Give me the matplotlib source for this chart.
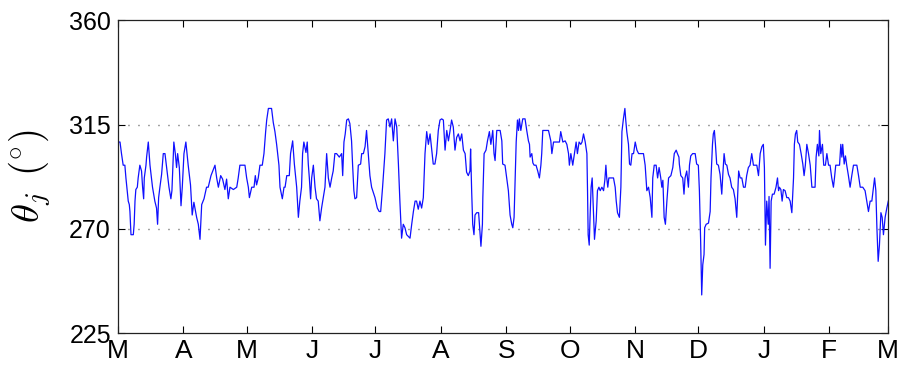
import matplotlib

matplotlib.use("Agg")
import matplotlib.pyplot as plt
import numpy as np

# ---------------------------------------------------------------------------
# Data: theta_j (deg) vs day since 1 March
# ---------------------------------------------------------------------------
day_mar_may = [
    0.0, 1.0, 1.7, 2.5, 3.3, 3.8, 4.4, 4.9, 5.4, 5.7,
    6.2, 7.3, 7.7, 8.1, 8.5, 9.2, 9.6, 10.4, 11.2, 11.7,
    12.2, 12.5, 13.3, 13.6, 14.4, 15.2, 16.4, 17.5, 18.3, 18.8,
    19.3, 19.9, 20.7, 21.5, 22.3, 23.1, 24.2, 25.1, 25.6, 26.5,
    27.2, 27.8, 28.3, 29.1, 29.9, 30.5, 31.3, 32.2, 33.3, 34.4,
    35.2, 36.0, 37.3, 38.1, 38.9, 39.7, 40.8, 42.0, 42.8, 44.1,
    46.0, 46.8, 47.6, 48.7, 49.6, 50.7, 51.5, 52.3, 53.1, 54.7,
    56.3, 57.0, 57.8, 60.2, 61.0, 61.8, 62.3, 63.4, 64.5, 65.1,
    65.7, 66.5, 67.3, 68.4, 69.2, 70.0, 70.5, 71.3, 72.8, 73.6,
    74.4, 75.2, 76.3, 76.8, 77.9, 78.7, 79.2, 80.0, 81.2, 81.8,
    82.8, 83.6, 84.7, 85.5,
]
theta_mar_may = [
    307.5, 307.5, 302.5, 297.5, 297.5, 292, 286.5, 282, 280.5, 277.5,
    267.5, 267.5, 272, 282, 287, 288, 292, 297.5, 295, 288,
    283, 292, 297.5, 301, 307.5, 297.5, 288, 282, 279, 272,
    283.5, 288, 293.5, 302.5, 302.5, 296.5, 288, 283, 286.5, 307.5,
    302.5, 296.5, 302.5, 296.5, 280, 288, 302.5, 307.5, 297.5, 289,
    276, 281.5, 275, 272, 265.5, 280.5, 283, 288, 288, 293,
    297.5, 292, 288, 293, 291.5, 287, 291.5, 283, 288, 287,
    288, 292, 297.5, 297.5, 292, 288, 283.5, 288, 288, 293,
    289, 292, 297.5, 297.5, 302.5, 312, 317, 322, 322, 316,
    312, 306.5, 297.5, 288, 283, 288, 288, 293, 293, 302.5,
    308, 298, 288, 275,
]

day_jun_aug = [
    86.2, 87.0, 87.5, 88.1, 89.1, 89.7, 90.2, 90.7, 91.3, 91.8,
    92.6, 93.4, 94.1, 94.9, 95.7, 96.5, 97.3, 98.1, 98.9, 99.7,
    100.5, 101.3, 102.0, 102.8, 103.6, 104.9, 106.0, 106.5, 107.1, 107.7,
    108.4, 109.2, 109.9, 110.7, 111.2, 111.8, 112.3, 113.1, 113.9, 115.0,
    115.5, 116.3, 117.1, 117.8, 118.6, 119.4, 120.2, 121.8, 122.9, 123.8,
    124.5, 125.4, 126.5, 127.3, 128.1, 128.9, 129.7, 130.5, 131.3, 132.1,
    132.9, 133.6, 134.4, 135.2, 136.0, 136.8, 138.4, 139.2, 140.0, 140.8,
    141.5, 142.3, 143.1, 143.9, 144.7, 145.5, 146.3, 147.1, 147.9, 148.7,
    149.4, 150.2, 151.0, 151.8, 152.6, 153.4, 154.2, 155.0, 155.8, 156.6,
    157.3, 158.1, 158.9, 159.7, 160.5, 161.3, 162.1, 162.9, 163.7, 164.5,
    165.2, 166.0, 166.8, 167.1, 167.6, 168.1, 168.7, 169.2, 170.0, 170.9,
    171.6, 172.0, 172.7,
]
theta_jun_aug = [
    282, 288, 302.5, 307.5, 303, 307.5, 298, 292, 283, 292,
    297.5, 288, 283, 282, 273.5, 279, 283.5, 288, 302.5, 292,
    288, 292, 295, 302.5, 302.5, 301, 302.5, 293, 307.5, 311,
    317, 317.5, 315.5, 308, 297.5, 286.5, 283, 283.5, 297.5, 298,
    302.5, 302.5, 305.5, 312.5, 302.5, 293, 288, 283.5, 279, 277.5,
    277.5, 288, 302.5, 317, 317.5, 314, 317.5, 308, 317.5, 314,
    298, 282, 266, 272, 270.5, 267.5, 266, 272, 277.5, 282,
    282, 278.5, 282, 279, 283.5, 302.5, 312, 306.5, 311, 304,
    298, 298, 302.5, 312.5, 317, 317.5, 317, 304, 312.5, 308,
    312, 317, 314, 304, 309.5, 311, 308, 311, 304, 302.5,
    294.5, 293, 295, 304.5, 286.5, 272, 267.5, 276, 277, 277,
    267.5, 262.5, 272,
]

day_aug_nov = [
    172.9, 173.5, 174.4, 175.1, 176.0, 176.7, 177.6, 178.2, 178.7, 179.5,
    181.1, 181.9, 182.3, 183.4, 184.2, 185.0, 185.8, 186.6, 187.1, 187.7,
    188.2, 188.7, 189.3, 189.8, 190.2, 190.9, 191.8, 192.9, 193.7, 194.5,
    195.0, 195.3, 196.1, 196.6, 197.2, 198.1, 198.9, 199.7, 200.4, 200.8,
    201.3, 202.4, 204.0, 205.1, 205.6, 206.4, 207.9, 209.2, 209.8, 210.8,
    211.9, 212.7, 213.5, 213.9, 214.6, 215.5, 216.3, 217.1, 217.7, 218.5,
    219.3, 219.9, 220.6, 221.4, 222.2, 222.5, 222.8, 223.3, 223.7, 224.2,
    224.7, 225.3, 225.8, 226.6, 227.2, 227.9, 228.5, 229.3, 230.1, 230.7,
    231.2, 231.6, 232.1, 232.6, 233.5, 234.8, 235.6, 236.1, 236.7, 237.6,
    238.3, 238.8, 239.5, 240.2, 240.6, 241.1, 241.9, 242.4, 243.0, 243.6,
    244.3, 245.1, 245.9, 246.7, 249.0, 249.8, 250.6, 251.4, 252.2, 253.0,
    253.4, 254.1, 255.0, 255.7, 256.4, 257.2, 257.7, 258.2, 258.8, 259.4,
    260.1, 260.9, 262.0, 262.9, 263.6, 264.5, 265.1, 265.8,
]
theta_aug_nov = [
    283.5, 302.5, 304, 308, 312, 306.5, 312.5, 302.5, 299.5, 312.5,
    312.5, 308, 298, 297.5, 292, 286.5, 276, 272, 270.5, 275,
    292, 307.5, 317, 312.5, 317.5, 312.5, 317.5, 317.5, 312.5, 308,
    306.5, 301, 302.5, 298.5, 297.5, 297.5, 295, 292, 297.5, 302.5,
    312.5, 312.5, 312.5, 308, 302.5, 307.5, 307.5, 307.5, 312, 307.5,
    308, 306.5, 302.5, 297.5, 302.5, 297.5, 302.5, 307.5, 302.5, 307.5,
    306.5, 307.5, 311, 307.5, 302.5, 286.5, 267.5, 263, 275, 288,
    292, 277.5, 265.5, 273.5, 286.5, 288, 286.5, 288, 286.5, 291,
    297.5, 292, 288, 292, 292, 292, 288, 282, 277, 275,
    288, 312, 317.5, 322, 317, 312, 306.5, 298, 297.5, 302.5,
    302.5, 307.5, 304, 302.5, 302.5, 297.5, 286.5, 288, 283.5, 275,
    292, 297.5, 297.5, 292, 296.5, 292, 288, 291, 275, 272,
    282, 292, 293, 296.5, 302.5, 304, 302.5, 301,
]

day_nov_mar = [
    266.0, 266.7, 267.6, 268.2, 268.7, 269.5, 270.3, 270.8, 271.4, 272.3,
    273.5, 274.2, 275.0, 275.5, 276.1, 276.6, 277.1, 277.7, 278.0, 278.7,
    279.8, 280.6, 281.0, 281.7, 282.1, 282.6, 283.1, 283.7, 284.5, 285.3,
    286.1, 286.6, 287.2, 287.8, 288.5, 289.3, 290.0, 290.8, 291.6, 292.4,
    293.2, 293.7, 294.1, 294.8, 295.6, 296.4, 297.2, 297.9, 298.7, 299.5,
    300.3, 301.1, 301.9, 302.7, 303.5, 304.3, 305.1, 305.8, 306.3, 306.8,
    307.4, 308.1, 308.5, 309.0, 309.5, 310.1, 310.9, 311.8, 312.5, 313.0,
    313.4, 314.1, 314.7, 315.3, 316.1, 316.9, 317.7, 318.5, 319.3, 320.1,
    320.5, 321.0, 321.6, 322.1, 322.9, 323.7, 324.5, 325.1, 325.7, 326.4,
    327.2, 328.0, 328.8, 329.5, 330.3, 330.8, 331.4, 332.1, 332.4, 333.0,
    333.8, 334.4, 335.2, 335.9, 336.7, 337.4, 338.2, 339.0, 339.5, 340.1,
    340.9, 341.9, 342.5, 343.0, 343.4, 344.1, 344.7, 345.3, 346.1, 346.9,
    347.7, 348.5, 350.1, 350.9, 351.7, 352.9, 354.0, 354.8, 355.6, 356.4,
    357.2, 358.0, 358.5, 359.1, 359.6, 360.2, 360.8, 361.5, 362.1, 362.7,
    363.5, 364.3, 365.0,
]
theta_nov_mar = [
    298, 293, 292, 285, 292, 295, 288, 297.5, 301.5, 302.5,
    302.5, 298, 297.5, 286.5, 264.5, 241.5, 254.5, 259, 270.5, 272,
    272.5, 277.5, 292, 306.5, 311, 312.5, 306.5, 298, 297.5, 293.5,
    285, 293.5, 302.5, 298, 297.5, 293.5, 292, 288, 287, 283,
    275, 286.5, 295, 292, 292, 288, 288, 293, 296.5, 297.5,
    302.5, 297.5, 297.5, 297.5, 293, 302.5, 305.5, 306.5, 296.5, 263,
    282, 272, 284, 253, 282, 285, 285, 288, 292, 286.5,
    288, 287, 282, 287, 286.5, 283.5, 283.5, 282, 277, 292,
    306.5, 311, 312.5, 307.5, 306.5, 302.5, 298, 293, 297.5, 306.5,
    302.5, 297.5, 288, 288, 288, 301, 306.5, 301.5, 312.5, 302.5,
    306.5, 297.5, 297.5, 302.5, 297.5, 297.5, 292, 288, 292, 297.5,
    297.5, 297.5, 306.5, 301, 306.5, 298, 301.5, 297.5, 293, 288,
    293, 297.5, 297.5, 293, 288, 288, 286.5, 282, 277.5, 282,
    282, 288, 292, 286.5, 270.5, 256, 263, 277, 275, 267.5,
    275, 279, 282,
]

month_days = [0, 31, 61, 92, 122, 153, 184, 214, 245, 275, 306, 337, 365]
month_labels = ["M", "A", "M", "J", "J", "A", "S", "O", "N", "D", "J", "F", "M"]
y_ticks = [225, 270, 315, 360]
ref_levels = [270, 315]

# ---------------------------------------------------------------------------
# Plot
# ---------------------------------------------------------------------------
plt.rcParams["font.family"] = ["Liberation Sans", "DejaVu Sans"]
plt.rcParams["mathtext.fontset"] = "cm"

day = np.concatenate([day_mar_may, day_jun_aug, day_aug_nov, day_nov_mar])
theta = np.concatenate([theta_mar_may, theta_jun_aug, theta_aug_nov, theta_nov_mar])

fig = plt.figure(figsize=(9, 3.71), dpi=100)
ax = fig.add_axes([0.131, 0.102, 0.856, 0.843])

for lvl in ref_levels:
    ax.axhline(lvl, color="#444444", linewidth=1.0, linestyle=(0, (0.7, 6.5)), zorder=1)

ax.plot(day, theta, color="#1010ff", linewidth=0.9, zorder=2)

ax.set_xlim(month_days[0], month_days[-1])
ax.set_ylim(y_ticks[0], y_ticks[-1])
ax.set_xticks(month_days)
ax.set_xticklabels(month_labels, fontsize=19)
ax.set_yticks(y_ticks)
ax.set_yticklabels([str(v) for v in y_ticks], fontsize=18)

ax.tick_params(axis="both", direction="in", length=5, width=0.8, top=True, right=True)
ax.tick_params(axis="x", pad=4)
ax.tick_params(axis="y", pad=5)
for sp in ax.spines.values():
    sp.set_linewidth(0.9)
    sp.set_color("#222222")

# y label: theta_j in degrees
ax.set_ylabel(r"$\theta_j\;\,(^{\circ})$", fontsize=28)
ax.yaxis.set_label_coords(-0.084, 0.5)

fig.savefig("out.png", dpi=100)
